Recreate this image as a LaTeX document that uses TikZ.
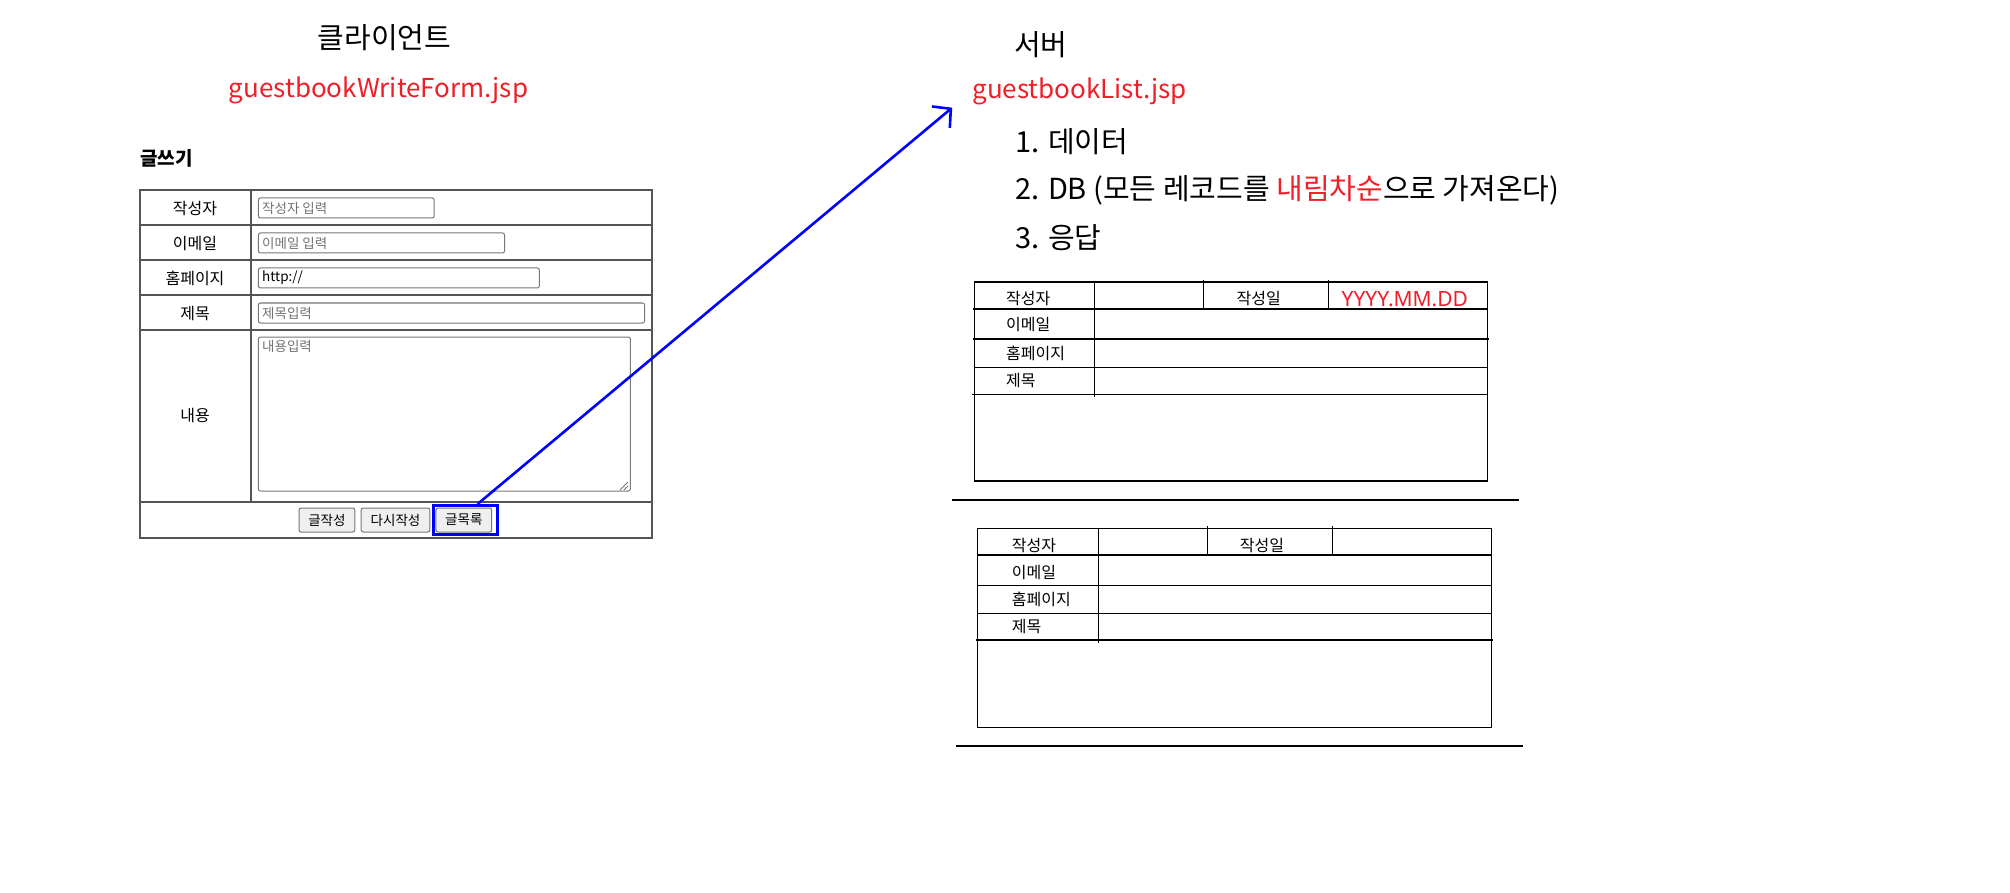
\documentclass[tikz,border=0pt]{standalone}
\usepackage{fontspec}
\setmainfont{Noto Sans CJK KR}
\newfontfamily\latinfont{Noto Sans}
\usetikzlibrary{arrows.meta}
\definecolor{jspred}{RGB}{240,30,38}
\definecolor{formline}{RGB}{85,85,85}
\definecolor{boxline}{RGB}{118,118,118}
\definecolor{btnfill}{RGB}{239,239,239}
\tikzset{
  big/.style={inner sep=0pt, font=\fontsize{29}{34}\selectfont},
  jsp/.style={inner sep=0pt, text=jspred, font=\fontsize{26}{31}\selectfont},
  cell/.style={inner sep=0pt, font=\fontsize{16}{19}\selectfont},
  hint/.style={inner sep=0pt, font=\fontsize{13.5}{16}\selectfont, text=black!55},
  inbox/.style={draw=boxline, rounded corners=2pt, line width=1pt},
  btn/.style={draw=boxline, fill=btnfill, rounded corners=2pt, line width=1pt, inner sep=0pt, minimum height=24pt, font=\fontsize{13.5}{16}\selectfont},
  grid/.style={line width=2pt, color=formline},
  tline/.style={line width=1.1pt, color=black},
}

\begin{document}
\begin{tikzpicture}[x=1pt, y=-1pt]
		\useasboundingbox (0,0) rectangle (2010,893);
		
		%%%%% CLIENT %%%%%
		
		\node[big] (client) at (384.5,38) {클라이언트};
		\node[jsp] (wform) at (378.5,90) {guestbookWriteForm.jsp};
		\node[anchor=west, inner sep=0pt, font=\bfseries\fontsize{19}{23}\selectfont] (wtitle) at (140,158) {글쓰기};
		
		\draw[grid] (139.5,190) rectangle (651.5,538);
		\draw[grid] (251,190) -- (251,502);
		\foreach \y in {225,260,295,330,502}
			\draw[grid] (139.5,\y) -- (651.5,\y);
		
		\node[cell] (lwriter) at (195,208.5) {작성자};
		\node[cell] (lmail) at (195,243.5) {이메일};
		\node[cell] (lhome) at (195,278.5) {홈페이지};
		\node[cell] (ltitle) at (195,313.5) {제목};
		\node[cell] (lbody) at (195,416) {내용};
		
		\draw[inbox] (258.4,198) rectangle (434.2,218);
		\node[hint, anchor=west] (hwriter) at (262,208) {작성자 입력};
		\draw[inbox] (258.4,233) rectangle (504.5,253);
		\node[hint, anchor=west] (hmail) at (262,243) {이메일 입력};
		\draw[inbox] (258.4,268) rectangle (539.3,288);
		\node[hint, anchor=west, text=black] (hhome) at (262,278) {http://};
		\draw[inbox] (258.4,303) rectangle (644.5,323);
		\node[hint, anchor=west] (htitle) at (262,313) {제목입력};
		\draw[inbox] (258.4,337) rectangle (630.3,491);
		\node[hint, anchor=west] (hbody) at (262,346) {내용입력};
		\draw[boxline, line width=0.8pt] (628,482) -- (620,490);
		\draw[boxline, line width=0.8pt] (628,486) -- (624,490);
		
		\node[btn, minimum width=55.8pt] (bwrite) at (326.9,520) {글작성};
		\node[btn, minimum width=68.6pt] (breset) at (395.5,520) {다시작성};
		\node[btn, minimum width=55.8pt] (blist) at (463.8,520) {글목록};
		\node[draw=blue, line width=3pt, inner sep=0pt, minimum width=64.6pt, minimum height=29pt] (hilite) at (465.6,520) {};
		
		%%%%% SERVER %%%%%
		
		\node[big] (server) at (1040.8,45) {서버};
		\node[jsp] (svlist) at (1079.6,91.7) {guestbookList.jsp};
		\node[big, anchor=west] (step1) at (1015,142) {1. 데이터};
		\node[big, anchor=west] (step2) at (1015,190) {2. DB (모든 레코드를 \textcolor{jspred}{내림차순}으로 가져온다)};
		\node[big, anchor=west] (step3) at (1015,238) {3. 응답};
		
		\draw[blue, line width=2.6pt, -{Straight Barb[length=13pt, width=28pt]}] ([xshift=12pt]hilite.north) -- ([xshift=-20pt, yshift=-16pt]svlist.west);
		
		% first record
		\draw[tline] (974.5,282) rectangle (1487.6,481);
		\draw[tline] (973,309) -- (1487.6,309);
		\draw[tline] (973,339) -- (1488.6,339);
		\draw[tline] (974,367.3) -- (1488,367.3);
		\draw[tline] (972,394.3) -- (1488,394.3);
		\draw[tline] (1094.3,282) -- (1094.3,397);
		\draw[tline] (1203.8,280) -- (1203.8,309);
		\draw[tline] (1328.5,280) -- (1328.5,309);
		
		\node[cell, anchor=west] (awriter) at (1006,299) {작성자};
		\node[cell] (adate) at (1258.8,299) {작성일};
		\node[anchor=west, inner sep=0pt, font=\latinfont\fontsize{21}{25}\selectfont, text=jspred] (aday) at (1341.5,299) {YYYY.MM.DD};
		\node[cell, anchor=west] (amail) at (1006,325) {이메일};
		\node[cell, anchor=west] (ahome) at (1006,353) {홈페이지};
		\node[cell, anchor=west] (atitle) at (1006,381) {제목};
		
		\draw[line width=2.5pt] (952,500) -- (1519,500);
		
		% second record
		\draw[tline] (977.9,528.3) rectangle (1491.4,727.3);
		\draw[tline] (977.9,555) -- (1491.4,555);
		\draw[tline] (976.5,585.3) -- (1492,585.3);
		\draw[tline] (977.9,613.3) -- (1492,613.3);
		\draw[tline] (975.5,640) -- (1493,640);
		\draw[tline] (1098.4,528.3) -- (1098.4,643);
		\draw[tline] (1207.3,526) -- (1207.3,555);
		\draw[tline] (1332.6,526) -- (1332.6,555);
		
		\node[cell, anchor=west] (bwriter) at (1011.7,546) {작성자};
		\node[cell] (bdate) at (1262,546) {작성일};
		\node[cell, anchor=west] (bmail) at (1011.7,573) {이메일};
		\node[cell, anchor=west] (bhome) at (1011.7,599) {홈페이지};
		\node[cell, anchor=west] (btitle) at (1011.7,627) {제목};
		
		\draw[line width=2.5pt] (956,746) -- (1523,746);
		
		%%%%% END %%%%%
\end{tikzpicture}
\end{document}
